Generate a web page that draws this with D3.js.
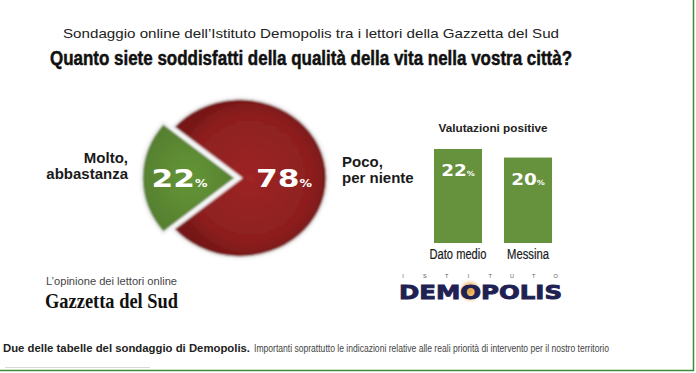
<!DOCTYPE html>
<html>
<head>
<meta charset="utf-8">
<script src="https://cdn.jsdelivr.net/npm/d3@7"></script>
<style>
  body { margin: 0; background: #fff; }
  svg { display: block; }
</style>
</head>
<body>
<svg id="mainsvg" width="696" height="373"></svg>
<script>
// data
const pieCategories = ["Molto, abbastanza", "Poco, per niente"];
const pieValues = [22, 78];
const barCategories = ["Dato medio", "Messina"];
const barValues = [22, 20];

const svg = d3.select("#mainsvg");
const narrow = "'Liberation Sans Narrow', 'Liberation Sans', Arial, sans-serif";
const sans = "'Liberation Sans', Arial, sans-serif";

const defs = svg.append("defs");
const rg = defs.append("radialGradient").attr("id", "redShade");
rg.append("stop").attr("offset", "0%").attr("stop-color", "#9e2525");
rg.append("stop").attr("offset", "80%").attr("stop-color", "#8d1f1f");
rg.append("stop").attr("offset", "100%").attr("stop-color", "#771717");
const gg = defs.append("radialGradient").attr("id", "greenShade");
gg.append("stop").attr("offset", "0%").attr("stop-color", "#649638");
gg.append("stop").attr("offset", "100%").attr("stop-color", "#56802f");
const og = defs.append("radialGradient").attr("id", "glow");
og.append("stop").attr("offset", "0%").attr("stop-color", "#e89a2a").attr("stop-opacity", 0.95);
og.append("stop").attr("offset", "60%").attr("stop-color", "#e8a040").attr("stop-opacity", 0.5);
og.append("stop").attr("offset", "100%").attr("stop-color", "#fff").attr("stop-opacity", 0);
defs.append("filter").attr("id", "soft")
  .append("feGaussianBlur").attr("stdDeviation", 0.9);

// header
svg.append("text")
  .attr("x", 63).attr("y", 38)
  .attr("textLength", 496).attr("lengthAdjust", "spacingAndGlyphs")
  .style("font-family", narrow).style("font-size", "13px").style("fill", "#222")
  .text("Sondaggio online dell\u2019Istituto Demopolis tra i lettori della Gazzetta del Sud");

svg.append("text")
  .attr("x", 50).attr("y", 65)
  .attr("textLength", 522).attr("lengthAdjust", "spacingAndGlyphs")
  .style("font-family", narrow).style("font-size", "20px").style("font-weight", "bold")
  .style("fill", "#111").style("stroke", "#111").style("stroke-width", 0.5)
  .text("Quanto siete soddisfatti della qualit\u00e0 della vita nella vostra citt\u00e0?");

// pie (slightly flattened, green slice bigger as in the print)
const cx = 240, cy = 178, r = 88, rGreen = 96, explode = 3, flat = 0.91;
const total = d3.sum(pieValues);
const start = -Math.PI / 2 - (pieValues[0] / total) * Math.PI;
const pie = d3.pie().sort(null).startAngle(start).endAngle(start + 2 * Math.PI);
const arcs = pie(pieValues);

const pg = svg.append("g").attr("transform", `translate(${cx},${cy})`);
arcs.forEach((a, i) => {
  const outer = i === 0 ? rGreen : r;
  const arc = d3.arc().innerRadius(0).outerRadius(outer);
  const mid = (a.startAngle + a.endAngle) / 2;
  const off = i === 0 ? explode : 0;
  const dx = Math.sin(mid) * off, dy = -Math.cos(mid) * off;
  const g = pg.append("g").attr("transform", `translate(${dx},${dy})`);
  g.append("path")
    .attr("d", arc(a))
    .attr("transform", `scale(1,${flat})`)
    .attr("fill", i === 0 ? "url(#greenShade)" : "url(#redShade)")
    .attr("stroke", "#f4f4f4").attr("stroke-width", 3.5)
    .attr("filter", "url(#soft)");
  const lr = i === 0 ? outer * 0.6 : outer * 0.5;
  const lx = Math.sin(mid) * lr, ly = -Math.cos(mid) * lr * flat;
  const t = g.append("text")
    .attr("transform", `translate(${lx},${ly + 9}) scale(1.25,1)`)
    .attr("text-anchor", "middle")
    .style("font-family", "'DejaVu Sans', sans-serif").style("font-weight", "bold")
    .style("fill", "#fff");
  t.append("tspan").style("font-size", "25px").text(pieValues[i]);
  t.append("tspan").style("font-size", "10px").text("%");
});

// pie side labels
const leftLbl = svg.append("text").attr("text-anchor", "end")
  .style("font-family", sans).style("font-weight", "bold").style("font-size", "15px").style("fill", "#1a1a1a");
leftLbl.append("tspan").attr("x", 128).attr("y", 163).text("Molto,");
leftLbl.append("tspan").attr("x", 128).attr("y", 179).text("abbastanza");

const rightLbl = svg.append("text")
  .style("font-family", sans).style("font-weight", "bold").style("font-size", "15px").style("fill", "#1a1a1a");
rightLbl.append("tspan").attr("x", 342).attr("y", 167).text("Poco,");
rightLbl.append("tspan").attr("x", 342).attr("y", 183).text("per niente");

// bars
const x = d3.scaleBand().domain(barCategories).range([423, 563]).paddingInner(0.314).paddingOuter(0.157);
const y = d3.scaleLinear().domain([0, 22]).range([243, 149]);

svg.append("text")
  .attr("x", 493).attr("y", 132).attr("text-anchor", "middle")
  .attr("textLength", 109).attr("lengthAdjust", "spacingAndGlyphs")
  .style("font-family", sans).style("font-weight", "bold").style("font-size", "10px").style("fill", "#222")
  .text("Valutazioni positive");

const bg = svg.append("g");
bg.selectAll("rect").data(barValues).join("rect")
  .attr("x", (d, i) => x(barCategories[i]))
  .attr("y", d => y(d))
  .attr("width", x.bandwidth())
  .attr("height", d => y(0) - y(d))
  .attr("fill", "#66913d");

bg.selectAll("text.val").data(barValues).join("text")
  .attr("class", "val")
  .attr("transform", (d, i) => `translate(${x(barCategories[i]) + x.bandwidth() / 2},${y(d) + 27}) scale(1.15,1)`)
  .attr("text-anchor", "middle")
  .style("font-family", "'DejaVu Sans', sans-serif").style("font-weight", "bold").style("fill", "#fff")
  .each(function(d) {
    const t = d3.select(this);
    t.append("tspan").style("font-size", "16px").text(d);
    t.append("tspan").style("font-size", "7px").text("%");
  });

const labelWidth = { "Dato medio": 57, "Messina": 42 };
const xAxis = d3.axisBottom(x).tickSize(0).tickPadding(0);
const ax = svg.append("g").attr("transform", `translate(0,${y(0) + 16})`).call(xAxis);
ax.select(".domain").remove();
ax.selectAll("text")
  .attr("dy", 0)
  .attr("textLength", d => labelWidth[d]).attr("lengthAdjust", "spacingAndGlyphs")
  .style("font-family", narrow).style("font-size", "14px").style("fill", "#1a1a1a")
  .style("stroke", "#1a1a1a").style("stroke-width", 0.2);

// logos
svg.append("text")
  .attr("x", 46).attr("y", 285)
  .attr("textLength", 131).attr("lengthAdjust", "spacingAndGlyphs")
  .style("font-family", sans).style("font-size", "10px").style("fill", "#444")
  .text("L\u2019opinione dei lettori online");
svg.append("text")
  .attr("x", 45).attr("y", 308)
  .attr("textLength", 133).attr("lengthAdjust", "spacingAndGlyphs")
  .style("font-family", "'Liberation Serif', 'DejaVu Serif', serif").style("font-weight", "bold")
  .style("font-size", "21px").style("fill", "#111")
  .text("Gazzetta del Sud");

svg.append("circle").attr("cx", 470).attr("cy", 291).attr("r", 13).attr("fill", "url(#glow)");
const ist = "ISTITUTO".split("");
ist.forEach((ch, i) => {
  svg.append("text")
    .attr("x", 403 + i * 21.8).attr("y", 278)
    .attr("text-anchor", "middle")
    .style("font-family", sans).style("font-size", "5.5px").style("fill", "#555")
    .text(ch);
});
svg.append("text")
  .attr("x", 399).attr("y", 299)
  .attr("textLength", 163).attr("lengthAdjust", "spacingAndGlyphs")
  .style("font-family", "'DejaVu Sans', sans-serif").style("font-weight", "bold")
  .style("font-size", "20px").style("fill", "#1f2152")
  .style("stroke", "#1f2152").style("stroke-width", 0.9)
  .text("DEMOPOLIS");

// caption
svg.append("text")
  .attr("x", 3).attr("y", 352)
  .attr("textLength", 247).attr("lengthAdjust", "spacingAndGlyphs")
  .style("font-family", narrow).style("font-weight", "bold").style("font-size", "10px").style("fill", "#222")
  .text("Due delle tabelle del sondaggio di Demopolis.");
svg.append("text")
  .attr("x", 254).attr("y", 352)
  .attr("textLength", 355).attr("lengthAdjust", "spacingAndGlyphs")
  .style("font-family", narrow).style("font-size", "10px").style("fill", "#444")
  .text("Importanti soprattutto le indicazioni relative alle reali priorit\u00e0 di intervento per il nostro territorio");

// frame
svg.append("line").attr("x1", 5).attr("x2", 150).attr("y1", 367.5).attr("y2", 367.5)
  .attr("stroke", "#d8d8d8").attr("stroke-width", 1);
svg.append("line").attr("x1", 693.5).attr("x2", 693.5).attr("y1", 0).attr("y2", 371)
  .attr("stroke", "#3d8b3d").attr("stroke-width", 1.5);
svg.append("line").attr("x1", 0).attr("x2", 694).attr("y1", 370.5).attr("y2", 370.5)
  .attr("stroke", "#3d8b3d").attr("stroke-width", 1.5);
</script>
</body>
</html>
